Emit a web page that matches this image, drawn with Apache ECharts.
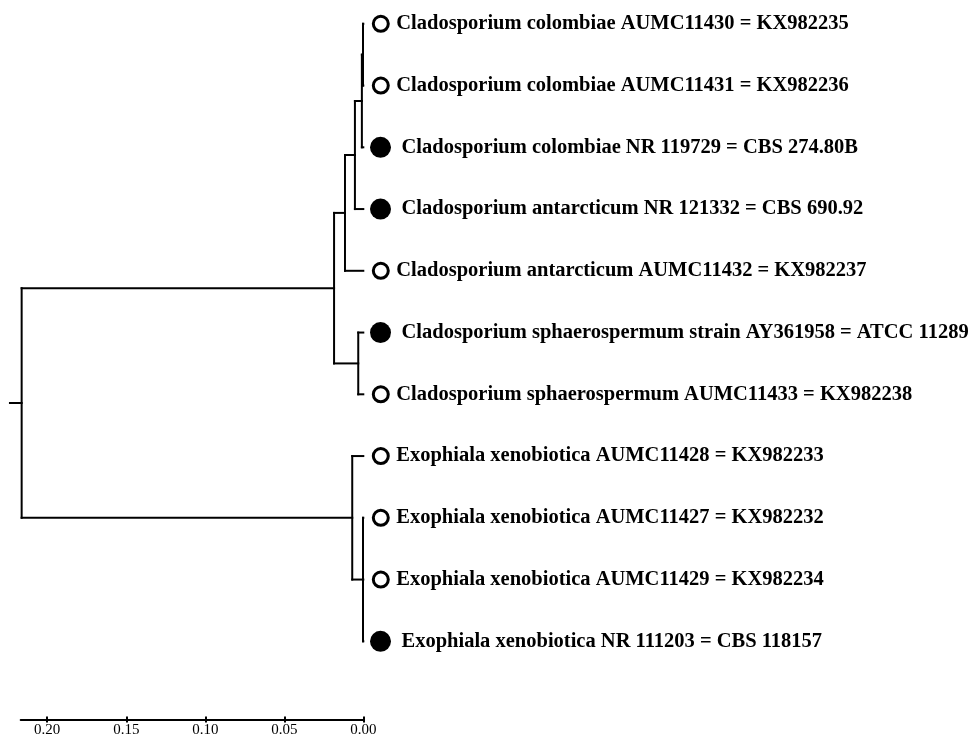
<!DOCTYPE html>
<html>
<head>
<meta charset="utf-8">
<script src="https://cdn.jsdelivr.net/npm/echarts@6/dist/echarts.min.js"></script>
<style>
html,body{margin:0;padding:0;background:#fff;}
#chart{width:974px;height:735px;}
</style>
</head>
<body>
<div id="chart"></div>
<script>
// Tips (leaves), top to bottom
const tipLabels = [
  "Cladosporium colombiae AUMC11430 = KX982235",
  "Cladosporium colombiae AUMC11431 = KX982236",
  "Cladosporium colombiae NR 119729 = CBS 274.80B",
  "Cladosporium antarcticum NR 121332 = CBS 690.92",
  "Cladosporium antarcticum AUMC11432 = KX982237",
  "Cladosporium sphaerospermum strain AY361958 = ATCC 11289",
  "Cladosporium sphaerospermum AUMC11433 = KX982238",
  "Exophiala xenobiotica AUMC11428 = KX982233",
  "Exophiala xenobiotica AUMC11427 = KX982232",
  "Exophiala xenobiotica AUMC11429 = KX982234",
  "Exophiala xenobiotica NR 111203 = CBS 118157"
];
const tipFilled = [false, false, true, true, false, true, false, false, false, false, true];
// Internal nodes (ids 11..19): children ids and node height (distance from tips)
const nodeChildren = [[0,1],[11,2],[12,3],[13,4],[5,6],[14,15],[8,9,10],[7,17],[16,18]];
const nodeHeights  = [0.0002, 0.0009, 0.0053, 0.0116, 0.0032, 0.0185, 0.0002, 0.0070, 0.2162];
const rootStub = 0.0074;
const scaleTicks = [0, 0.05, 0.10, 0.15, 0.20];

const nTips = tipLabels.length;
const H = [], Y = [];
for (let i = 0; i < nTips; i++) { H[i] = 0; Y[i] = i; }
const segments = [];
nodeChildren.forEach((ch, k) => {
  const id = nTips + k;
  const h = nodeHeights[k];
  H[id] = h;
  Y[id] = (Y[ch[0]] + Y[ch[ch.length - 1]]) / 2;
  segments.push([h, Y[ch[0]], h, Y[ch[ch.length - 1]]]);
  ch.forEach(c => segments.push([h, Y[c], H[c], Y[c]]));
});
const rootId = nTips + nodeChildren.length - 1;
segments.push([H[rootId] + rootStub, Y[rootId], H[rootId], Y[rootId]]);

const openTips = [], filledTips = [];
tipLabels.forEach((t, i) => {
  (tipFilled[i] ? filledTips : openTips).push({ value: [0, i], name: t });
});

const labelFont = { fontFamily: 'Liberation Serif', fontWeight: 'bold', fontSize: 20.5, color: '#000', opacity: 1 };
const chart = echarts.init(document.getElementById('chart'), null, { renderer: 'canvas' });
const axisBase = { type: 'value', min: 0, max: 0.2168, inverse: true, position: 'bottom', offset: 78.3, splitLine: { show: false } };
chart.setOption({
  animation: false,
  backgroundColor: '#fff',
  grid: { left: 20.7, width: 342.6, top: 23.8, height: 617.5, containLabel: false, outerBoundsMode: 'none' },
  xAxis: [Object.assign({}, axisBase, {
    axisLine: { show: true, onZero: false, lineStyle: { color: '#000', width: 2 } },
    axisTick: { show: true, customValues: scaleTicks, length: 3, lineStyle: { color: '#000', width: 2 } },
    axisLabel: { show: true, customValues: scaleTicks, margin: 2.5, fontFamily: 'Liberation Serif', fontSize: 15, color: '#000',
      formatter: v => Number(v).toFixed(2) }
  }), Object.assign({}, axisBase, {
    axisLine: { show: false, onZero: false },
    axisTick: { show: true, inside: true, customValues: scaleTicks, length: 3, lineStyle: { color: '#000', width: 2 } },
    axisLabel: { show: false }
  })],
  yAxis: { type: 'value', min: 0, max: nTips - 1, inverse: true, show: false },
  series: [{
    type: 'custom',
    clip: false,
    encode: { x: [0, 2], y: [1, 3] },
    data: segments,
    renderItem: (params, api) => {
      const p1 = api.coord([api.value(0), api.value(1)]);
      const p2 = api.coord([api.value(2), api.value(3)]);
      return { type: 'line', shape: { x1: p1[0], y1: p1[1], x2: p2[0], y2: p2[1] },
        style: { stroke: '#000', lineWidth: 2, lineCap: 'square' } };
    }
  }, {
    type: 'scatter', clip: false, data: openTips,
    symbol: 'circle', symbolSize: 15, symbolOffset: [17.5, 0],
    itemStyle: { color: '#fff', borderColor: '#000', borderWidth: 3, opacity: 1 },
    label: Object.assign({ show: true, position: 'right', distance: 6.5, formatter: p => p.name }, labelFont),
    emphasis: { disabled: true }
  }, {
    type: 'scatter', clip: false, data: filledTips,
    symbol: 'circle', symbolSize: 21, symbolOffset: [17.2, 0],
    itemStyle: { color: '#000', opacity: 1 },
    label: Object.assign({ show: true, position: 'right', distance: 10.5, formatter: p => p.name }, labelFont),
    emphasis: { disabled: true }
  }]
});
</script>
</body>
</html>
